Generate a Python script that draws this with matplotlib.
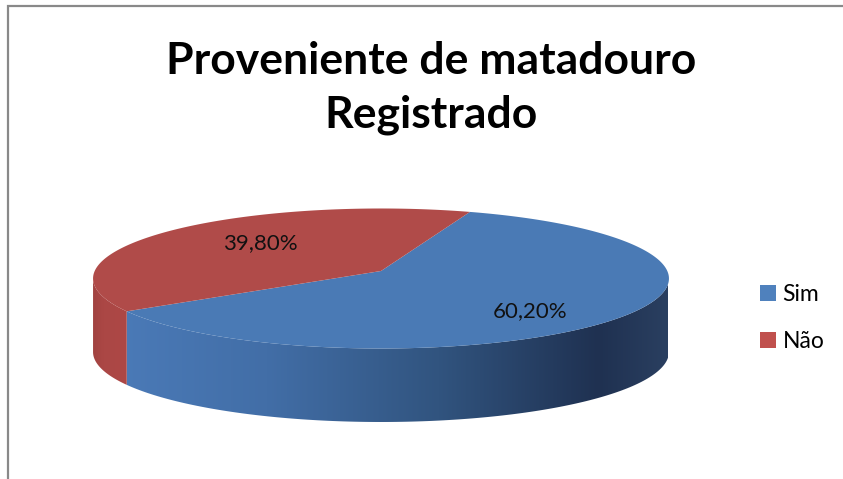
import numpy as np
import matplotlib
matplotlib.use('Agg')
import matplotlib.pyplot as plt
from matplotlib.patches import Polygon, Patch, Rectangle
from matplotlib.colors import LinearSegmentedColormap

# dados
titulo = 'Proveniente de matadouro\nRegistrado'
rotulos = ['Sim', 'Não']
valores = [60.2, 39.8]
cores_topo = ['#4A7AB5', '#B04B49']
cores_legenda = ['#4F81BD', '#C0504D']

plt.rcParams['font.family'] = ['Lato', 'DejaVu Sans']

fig = plt.figure(figsize=(8.43, 4.79), dpi=100)
ax = fig.add_axes([0, 0, 1, 1])

# geometria da pizza 3d (pixels) com uma perspectiva simples
CX, PCY = 381, 271      # centro da pizza
SX, SY = 286.3, 69.2    # escala horizontal / vertical
K = 0.107               # perspectiva (lado de tras menor)
DEPTH = 73.5


def proj(x, y):
    w = 1 + K * y
    return CX + SX * x / w, PCY - SY * y / w


wedges, texts, autotexts = ax.pie(valores, colors=cores_topo, startangle=70, counterclock=False,
                                  autopct=lambda p: f'{p:.2f}'.replace('.', ',') + '%',
                                  wedgeprops=dict(linewidth=0),
                                  textprops=dict(fontsize=16, color='#111111'))

# lateral da pizza (so a parte da frente aparece, entre os extremos esquerdo e direito)
a0 = np.degrees(np.arcsin(K))
side_cmaps = [
    LinearSegmentedColormap.from_list('lado_azul', [(0, '#4C7CBA'), (0.3, '#426EA7'), (0.6, '#31547F'),
                                                    (0.88, '#1F3151'), (1, '#2A3F60')]),
    LinearSegmentedColormap.from_list('lado_verm', [(0, '#A14341'), (0.3, '#AB4745'), (1, '#AD4846')]),
]
for w, cm in zip(wedges, side_cmaps):
    for k in (-1, 0, 1):
        a = max(w.theta1, 180 + a0 + 360 * k)
        b = min(w.theta2, 360 - a0 + 360 * k)
        if a >= b:
            continue
        t = np.radians(np.linspace(a, b, 150))
        tx, ty = proj(np.cos(t), np.sin(t))
        pts = np.vstack([np.column_stack([tx, ty]), np.column_stack([tx[::-1], ty[::-1] + DEPTH])])
        poly = Polygon(pts, closed=True, facecolor='none', edgecolor='none')
        ax.add_patch(poly)
        gx0, gx1 = (CX - SX, CX + SX) if cm.name == 'lado_azul' else (tx.min(), tx.max())
        grad = np.linspace(0, 1, 256).reshape(1, -1)
        im = ax.imshow(grad, cmap=cm, extent=(gx0, gx1, PCY + SY + DEPTH + 20, PCY - SY - 20),
                       aspect='auto', zorder=1, interpolation='bilinear')
        im.set_clip_path(poly)

# topo: fatias do pie projetadas
for w in wedges:
    w.set_visible(False)
    t = np.radians(np.linspace(w.theta1, w.theta2, 300))
    xs = np.concatenate([[0], np.cos(t)]) * w.r + w.center[0]
    ys = np.concatenate([[0], np.sin(t)]) * w.r + w.center[1]
    px, py = proj(xs, ys)
    ax.add_patch(Polygon(np.column_stack([px, py]), closed=True, facecolor=w.get_facecolor(),
                         edgecolor='none', zorder=3))

# posicao dos rotulos (como no excel)
pos_rotulos = [(530, 311), (260, 243)]
for t, p in zip(autotexts, pos_rotulos):
    t.set_position(p)
    t.set_zorder(5)

ax.set_xlim(0, 843)
ax.set_ylim(479, 0)
ax.set_aspect('auto')
ax.axis('off')

# titulo
fig.text(431 / 843, 1 - 88 / 479, titulo, ha='center', va='center', fontsize=32,
         fontweight='bold', linespacing=1.42)

# legenda
handles = [Patch(facecolor=c, edgecolor='none') for c in cores_legenda]
fig.legend(handles, rotulos, loc='center left', bbox_to_anchor=(739 / 843, 1 - 318 / 479),
           frameon=False, fontsize=16.5, handlelength=0.7, handleheight=0.7,
           handletextpad=0.3, labelspacing=1.15)

# borda da area do grafico
fig.patches.append(Rectangle((7.5 / 843, -0.1), 1.2, 1 - 5.5 / 479 + 0.1, transform=fig.transFigure,
                             fill=False, edgecolor='#898989', linewidth=1.6))

fig.savefig('out.png', dpi=100)
